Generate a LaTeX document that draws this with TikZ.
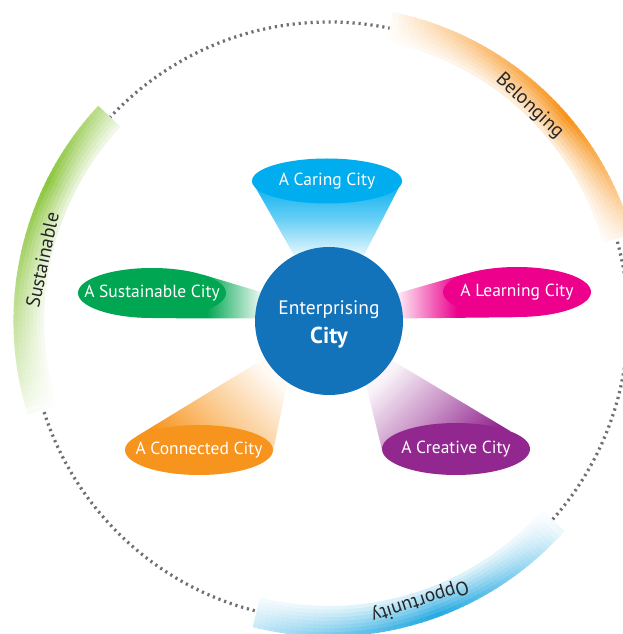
\documentclass[tikz,border=0pt]{standalone}
\usepackage{fontspec}
\setmainfont{PT Sans}
\usetikzlibrary{shapes.geometric,backgrounds}

\definecolor{coreblue}{HTML}{1272BA}
\definecolor{caringcyan}{HTML}{00AEEF}
\definecolor{sustaingreen}{HTML}{00A651}
\definecolor{learnpink}{HTML}{EC008C}
\definecolor{creativepurple}{HTML}{92278F}
\definecolor{connectorange}{HTML}{F7941D}
\definecolor{belongorange}{HTML}{F7941D}
\definecolor{sustainlime}{HTML}{8DC63F}
\definecolor{opportblue}{HTML}{27AAE1}
\definecolor{ringgray}{HTML}{707070}

\tikzset{
  citypetal/.style={ellipse, fill=#1, text=white, minimum width=148pt,
    minimum height=50pt, inner sep=0pt, font=\fontsize{17.5}{20}\selectfont},
  ringword/.style={text=black!85, font=\fontsize{19.5}{22}\selectfont},
}
% label of a petal, kept out of the ellipse size
\newcommand{\citytag}[1]{\makebox[0pt]{#1}}

% band of the outer ring: #1 colour, #2 first angle, #3 peak angle,
% #4 last angle, #5 level at first angle, #6 level at last angle
\newcommand{\ringband}[6]{%
  \pgfmathtruncatemacro{\bandsteps}{(#4-#2)-1}
  \foreach \k in {0,...,\bandsteps}{
    \pgfmathsetmacro{\ang}{#2+\k}
    \pgfmathsetmacro{\lev}{(\ang<#3 ? #5+(1-#5)*(\ang-#2)/(#3-#2) : 1-(1-#6)*(\ang-#3)/(#4-#3))^0.75}
    \foreach \j in {0,...,7}{
      \pgfmathsetmacro{\rin}{285+3.75*\j}
      \pgfmathsetmacro{\bandlev}{100*\lev*(0.2+0.8*\j/7)}
      \fill[#1!\bandlev!white] (\ang:\rin pt)
        arc[start angle=\ang, delta angle=1.3, radius=\rin pt]
        -- ++(\ang+1.3:4.3pt)
        arc[start angle=\ang+1.3, delta angle=-1.3, radius=\rin pt+4.3pt] -- cycle;
    }
  }
}

\begin{document}
\begin{tikzpicture}[x=1pt, y=1pt]
  \useasboundingbox (-329,-313) rectangle (294,321);

  % dotted ring and its three bands
  \draw[ringgray, line width=3.2pt, dash pattern=on 2.2pt off 3.8pt] (0,0) circle[radius=299pt];
  \ringband{belongorange}{16}{40}{78}{0.1}{0}
  \ringband{sustainlime}{137}{153}{197}{0.5}{0}
  \ringband{opportblue}{256}{290}{318}{0.15}{0}
  \node[ringword, rotate=-43] (belong) at (47:294pt) {Belonging};
  \node[ringword, rotate=78] (sustainring) at (168:293pt) {Sustainable};
  \node[ringword, rotate=198] (opport) at (288:294pt) {Opportunity};

  % centre and petals
  \node[circle, fill=coreblue, minimum size=148pt, inner sep=0pt] (core) at (0,0) {};
  \node[text=white, align=center, font=\fontsize{19.5}{29}\selectfont] (coretext)
    at ([yshift=-3pt]core.center) {Enterprising\\{\fontsize{23}{29}\selectfont\bfseries City}};
  \node[citypetal=caringcyan, minimum width=150pt, minimum height=45pt] (caring) at (-2,140) {\citytag{A Caring City}};
  \node[citypetal=sustaingreen] (sustain) at (-177,28) {\citytag{A Sustainable City}};
  \node[citypetal=learnpink] (learn) at (188,29) {\citytag{A Learning City}};
  \node[citypetal=creativepurple, minimum height=52pt] (creative) at (127,-128) {\citytag{A Creative City}};
  \node[citypetal=connectorange] (connect) at (-130,-129) {\citytag{A Connected City}};

  % beams from the centre
  \begin{scope}[on background layer]
    \shade[top color=caringcyan, bottom color=caringcyan!10, middle color=caringcyan!60]
      (caring.west) -- (caring.east) -- (core.62) -- (core.118) -- cycle;
    \shade[left color=sustaingreen, right color=sustaingreen!8, middle color=sustaingreen]
      (sustain.20) -- (core.157) -- (core.178) -- (sustain.south) -- cycle;
    \shade[left color=learnpink!8, right color=learnpink, middle color=learnpink]
      (learn.160) -- (core.22) -- (core.2) -- (learn.south) -- cycle;
    \shade[top color=creativepurple!5, bottom color=creativepurple, middle color=creativepurple!50, shading angle=45]
      (creative.18) -- (core.-32) -- (core.-60) -- (creative.west) -- cycle;
    \shade[top color=connectorange!5, bottom color=connectorange, middle color=connectorange!50, shading angle=-45]
      (connect.168) -- (core.210) -- (core.236) -- (connect.east) -- cycle;
  \end{scope}
\end{tikzpicture}
\end{document}
